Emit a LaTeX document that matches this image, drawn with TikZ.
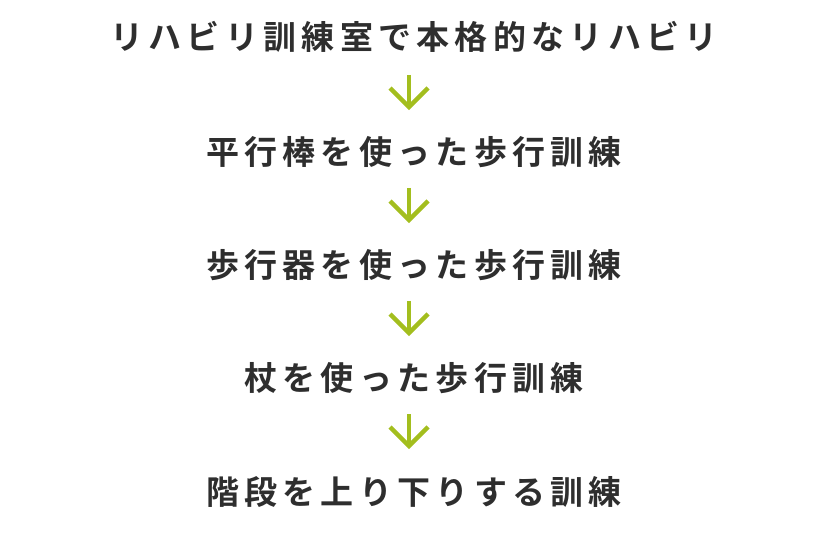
\documentclass[tikz,border=0pt]{standalone}
\usepackage{fontspec}
\setmainfont{Noto Sans CJK JP}[BoldFont={Noto Sans CJK JP Bold},LetterSpace=16]
\begin{document}
\begin{tikzpicture}[x=1pt,y=-1pt,
  lbl/.style={font=\fontsize{33}{38}\selectfont\bfseries, text=black!82, inner sep=0pt, anchor=center},
  arr/.style={line width=4.5pt, color={rgb,255:red,163;green,190;blue,30}}]
\useasboundingbox (0,0) rectangle (820,540);
\node[lbl] (t1) at (414,37) {リハビリ訓練室で本格的なリハビリ};
\node[lbl] (t2) at (414,152) {平行棒を使った歩行訓練};
\node[lbl] (t3) at (414,265) {歩行器を使った歩行訓練};
\node[lbl] (t4) at (414,378) {杖を使った歩行訓練};
\node[lbl] (t5) at (414,492) {階段を上り下りする訓練};
\foreach \y [count=\i] in {75,188,301,414}{
  \coordinate (a\i) at (409,\y);
  \coordinate (b\i) at (409,\y+32);
  \draw[arr] (a\i) -- (b\i);
  \draw[arr] (390,\y+13) -- (b\i) -- (428,\y+13);
}
\end{tikzpicture}
\end{document}
